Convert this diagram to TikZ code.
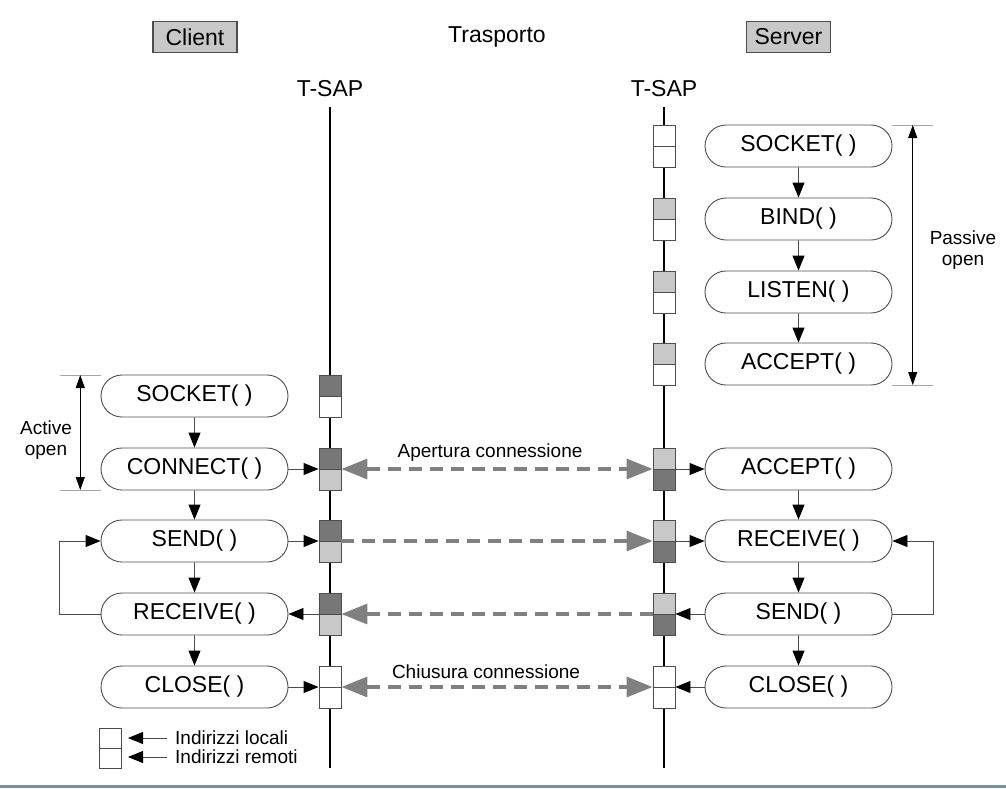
\documentclass[tikz,border=0pt]{standalone}
\usepackage{fontspec}
\setmainfont{Liberation Sans}
\usetikzlibrary{calc}
\usetikzlibrary{arrows.meta}
\usetikzlibrary{shapes.misc}
\definecolor{dark}{RGB}{119,119,119}
\definecolor{light}{RGB}{200,200,200}
\definecolor{rim}{RGB}{77,77,77}
\definecolor{dashgrey}{RGB}{128,128,128}
\definecolor{bar}{RGB}{122,144,163}

\begin{document}
\begin{tikzpicture}[x=1pt, y=-1pt, call/.style={rounded rectangle, draw=rim, line width=0.9pt, minimum width=187pt, minimum height=42pt, inner sep=0pt, font=\fontsize{23}{27}\selectfont}]
    \tikzset{tsap/.style 2 args={draw=rim, line width=0.9pt, minimum width=22pt, minimum height=42pt, inner sep=0pt, fill=#2,
    path picture={\path[fill=#1] (path picture bounding box.north west) rectangle (path picture bounding box.east);
    \draw[rim, line width=0.9pt] (path picture bounding box.west) -- (path picture bounding box.east);}}}
    \tikzset{flow/.style={draw=black!70, line width=0.9pt, >={Triangle[length=15pt, width=12pt, color=black]}, ->}}
    \tikzset{transfer/.style={draw=dashgrey, line width=3.3pt, dash pattern=on 13pt off 8pt, >={Triangle[length=26pt, width=20pt]}}}
    \tikzset{head/.style={font=\fontsize{23}{27}\selectfont}, tag/.style={head, draw=rim, fill=light, line width=1.2pt, minimum width=84pt, minimum height=31pt, inner sep=0pt}}
    \tikzset{note/.style={font=\fontsize{19}{20.5}\selectfont, align=center}, guide/.style={draw=black!35, line width=0.8pt}, dim/.style={line width=0.8pt, <->, >={Triangle[length=13pt, width=9pt]}}}
    \useasboundingbox (0,0) rectangle (1006,788);
    \def \lx {330} \def \rx {664} \def \lp {194.5} \def \rp {798.5}

    % headings
    \node[tag] (client) at (195,37) {Client};
    \node[head] (layer) at (497,37) {Trasporto};
    \node[tag] (server) at (788.5,37) {Server};
    \node[head] (lsap) at (\lx,89) {T-SAP};
    \node[head] (rsap) at (\rx,89) {T-SAP};

    % T-SAP lines
    \coordinate (ltop) at (\lx,107); \coordinate (lend) at (\lx,768);
    \coordinate (rtop) at (\rx,107); \coordinate (rend) at (\rx,768);
    \draw[line width=1.1pt] (ltop) -- (lend);
    \draw[line width=1.1pt] (rtop) -- (rend);

    % client side
    \node[call] (c1) at (\lp,396) {SOCKET( )};
    \node[call] (c2) at (\lp,469) {CONNECT( )};
    \node[call] (c3) at (\lp,541) {SEND( )};
    \node[call] (c4) at (\lp,614) {RECEIVE( )};
    \node[call] (c5) at (\lp,687) {CLOSE( )};
    \foreach \i/\y/\up/\dn in {1/396/dark/white, 2/469/dark/light, 3/541/dark/light, 4/614/dark/light, 5/687/white/white} {
    \node[tsap={\up}{\dn}] (b\i) at (\lx,\y) {};
    }

    % server side
    \node[call] (s1) at (\rp,146) {SOCKET( )};
    \node[call] (s2) at (\rp,219) {BIND( )};
    \node[call] (s3) at (\rp,292) {LISTEN( )};
    \node[call] (s4) at (\rp,364) {ACCEPT( )};
    \node[call] (s5) at (\rp,469) {ACCEPT( )};
    \node[call] (s6) at (\rp,541) {RECEIVE( )};
    \node[call] (s7) at (\rp,614) {SEND( )};
    \node[call] (s8) at (\rp,687) {CLOSE( )};
    \foreach \i/\y/\up/\dn in {1/146/white/white, 2/219/light/white, 3/292/light/white, 4/364/light/white, 5/469/light/dark, 6/541/light/dark, 7/614/light/dark, 8/687/white/white} {
    \node[tsap={\up}{\dn}] (t\i) at (\rx,\y) {};
    }

    \foreach \a/\b in {c1/c2, c2/c3, c3/c4, c4/c5, s1/s2, s2/s3, s3/s4, s5/s6, s6/s7, s7/s8} {
    \draw[flow] (\a) -- (\b);
    }
    \draw[flow] (c2.east) -- (b2.west);
    \draw[flow] (c3.east) -- (b3.west);
    \draw[flow] (b4.west) -- (c4.east);
    \draw[flow] (c5.east) -- (b5.west);
    \draw[flow] (t5.east) -- (s5.west);
    \draw[flow] (t6.east) -- (s6.west);
    \draw[flow] (s7.west) -- (t7.east);
    \draw[flow] (s8.west) -- (t8.east);
    \draw[flow] (c4.west) -- ++(-41,0) |- (c3.west);
    \draw[flow] (s7.east) -- ++(41,0) |- (s6.east);

    % connection
    \draw[transfer, <->] (b2.east) -- (t5.west) node[midway, above=3pt, note, xshift=-7pt] {Apertura connessione};
    \draw[transfer, ->] (b3.east) -- (t6.west);
    \draw[transfer, <-] (b4.east) -- (t7.west);
    \draw[transfer, <->] (b5.east) -- (t8.west) node[midway, above=3pt, note, xshift=-11pt] {Chiusura connessione};

    % active / passive open
    \coordinate (ao1) at (60,375); \coordinate (ao2) at (60,490);
    \draw[guide] (ao1) -- (c1.west |- ao1);
    \draw[guide] (ao2) -- (c2.west |- ao2);
    \draw[dim] ($(ao1)!0.5!(c1.west |- ao1)$) -- ($(ao2)!0.5!(c2.west |- ao2)$);
    \node[note] (active) at (46,440) {Active\\open};
    \coordinate (po1) at (933,125); \coordinate (po2) at (933,385);
    \draw[guide] (s1.east |- po1) -- (po1);
    \draw[guide] (s4.east |- po2) -- (po2);
    \draw[dim] ($(s1.east |- po1)!0.5!(po1)$) -- ($(s4.east |- po2)!0.5!(po2)$);
    \node[note] (passive) at (963,250) {Passive\\open};

    % legend
    \node[tsap={white}{white}, minimum height=40pt] (key) at (110,748) {};
    \node[note, anchor=west, inner sep=0pt] (loc) at (175,738) {Indirizzi locali};
    \node[note, anchor=west, inner sep=0pt] (rem) at (175,757) {Indirizzi remoti};
    \coordinate (kl) at (128,738); \coordinate (kr) at (128,757);
    \draw[flow, shorten <=8pt] (loc.west) -- (kl);
    \draw[flow, shorten <=8pt] (rem.west) -- (kr);

    \fill[bar] (0,785) rectangle (1006,788);
\end{tikzpicture}
\end{document}
